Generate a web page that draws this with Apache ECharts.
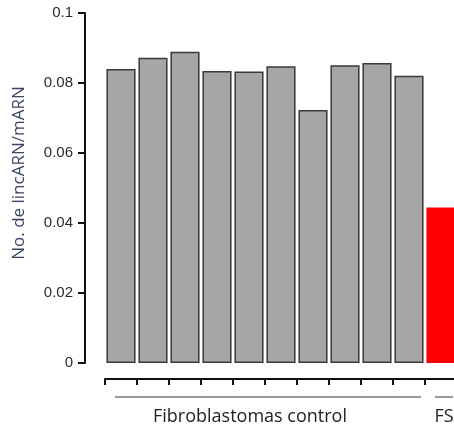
<!DOCTYPE html>
<html>
<head>
<meta charset="utf-8">
<script src="https://cdn.jsdelivr.net/npm/echarts@6/dist/echarts.min.js"></script>
<style>
  html, body { margin: 0; padding: 0; background: #fff; }
  #chart { width: 454px; height: 429px; }
</style>
</head>
<body>
<div id="chart"></div>
<script>
// samples: 10 control fibroblastomas + FS
const categories = ['C1', 'C2', 'C3', 'C4', 'C5', 'C6', 'C7', 'C8', 'C9', 'C10', 'FS']
const values = [0.0840, 0.0872, 0.0889, 0.0834, 0.0833, 0.0848, 0.0723, 0.0851, 0.0857, 0.0821, 0.0444]
const yTicks = [0, 0.02, 0.04, 0.06, 0.08, 0.1]
// groups drawn under the axis: [label, first index, last index]
const groups = [
  ['Fibroblastomas control', 0, 9],
  ['FS', 10, 10]
]

const chart = echarts.init(document.getElementById('chart'))

chart.setOption({
  animation: false,
  grid: { left: 105, right: -3, top: 13, bottom: 66, outerBoundsMode: 'none', containLabel: false },
  xAxis: {
    type: 'category',
    data: categories,
    offset: 16,
    axisLine: { onZero: false, lineStyle: { color: '#111', width: 2 } },
    axisTick: { show: true, interval: 0, length: 6, lineStyle: { color: '#111', width: 2 } },
    axisLabel: { show: false }
  },
  yAxis: {
    type: 'value',
    min: yTicks[0],
    max: yTicks[yTicks.length - 1],
    interval: 0.02,
    offset: 20,
    name: 'No. de lincARN/mARN',
    nameLocation: 'middle',
    nameGap: 57,
    nameRotate: 90,
    nameTextStyle: {
      fontFamily: 'Open Sans', fontSize: 17, color: '#3a4462',
      padding: [0, 0, 0, 30]
    },
    axisLine: { show: true, lineStyle: { color: '#111', width: 2 } },
    axisTick: { show: true, inside: false, length: 7, lineStyle: { color: '#111', width: 2 } },
    axisLabel: { fontFamily: 'Liberation Sans', fontSize: 15, color: '#2b2b2b', margin: 12 },
    splitLine: { show: false }
  },
  series: [{
    type: 'bar',
    barCategoryGap: '9%',
    data: values.map((v, i) => i < 10
      ? { value: v, itemStyle: { color: '#a6a6a6', borderColor: '#3a3a3a', borderWidth: 1.5 } }
      : { value: v, itemStyle: { color: '#ff0000' } })
  }]
})

// group brackets and labels placed from the category scale
const half = (chart.convertToPixel({ xAxisIndex: 0 }, 1) - chart.convertToPixel({ xAxisIndex: 0 }, 0)) / 2
const labelShift = [-18, 0]
const elements = []
groups.forEach(([label, from, to], g) => {
  const x0 = chart.convertToPixel({ xAxisIndex: 0 }, from) - half + 10
  const x1 = chart.convertToPixel({ xAxisIndex: 0 }, to) + half - 4
  elements.push({
    type: 'line',
    shape: { x1: x0, y1: 397, x2: x1, y2: 397 },
    style: { stroke: '#9a9a9a', lineWidth: 2 }
  })
  elements.push({
    type: 'text',
    x: (x0 + x1) / 2 + labelShift[g],
    y: 417,
    style: {
      text: label, fill: '#222', font: '18px "Open Sans"',
      align: 'center', verticalAlign: 'middle'
    }
  })
})
chart.setOption({ graphic: elements })
</script>
</body>
</html>
